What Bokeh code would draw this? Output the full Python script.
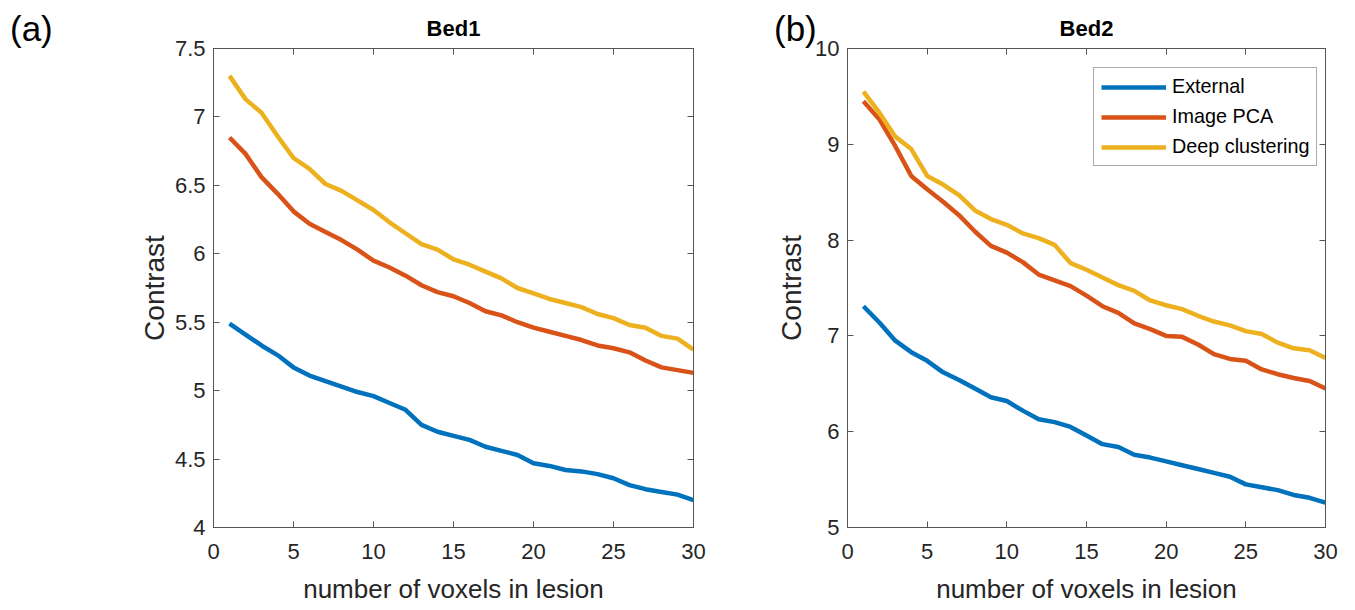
from bokeh.plotting import figure
from bokeh.models import (Range1d, LinearAxis, FixedTicker, Legend, LegendItem,
                          CustomJSTickFormatter, GridBox, Div)
from bokeh.embed import file_html
from bokeh.resources import INLINE

voxels = list(range(1, 31))

bed1_external = [5.49, 5.41, 5.33, 5.26, 5.17, 5.11, 5.07, 5.03, 4.99, 4.96,
                 4.91, 4.86, 4.75, 4.70, 4.67, 4.64, 4.59, 4.56, 4.53, 4.47,
                 4.45, 4.42, 4.41, 4.39, 4.36, 4.31, 4.28, 4.26, 4.24, 4.20]
bed1_pca = [6.85, 6.73, 6.56, 6.44, 6.31, 6.22, 6.16, 6.10, 6.03, 5.95,
            5.90, 5.84, 5.77, 5.72, 5.69, 5.64, 5.58, 5.55, 5.50, 5.46,
            5.43, 5.40, 5.37, 5.33, 5.31, 5.28, 5.22, 5.17, 5.15, 5.13]
bed1_deep = [7.30, 7.13, 7.03, 6.86, 6.70, 6.62, 6.51, 6.46, 6.39, 6.32,
             6.23, 6.15, 6.07, 6.03, 5.96, 5.92, 5.87, 5.82, 5.75, 5.71,
             5.67, 5.64, 5.61, 5.56, 5.53, 5.48, 5.46, 5.40, 5.38, 5.30]

bed2_external = [7.31, 7.14, 6.95, 6.83, 6.74, 6.62, 6.54, 6.45, 6.36, 6.32,
                 6.22, 6.13, 6.10, 6.05, 5.96, 5.87, 5.84, 5.76, 5.73, 5.69,
                 5.65, 5.61, 5.57, 5.53, 5.45, 5.42, 5.39, 5.34, 5.31, 5.26]
bed2_pca = [9.45, 9.26, 8.98, 8.67, 8.53, 8.40, 8.26, 8.09, 7.94, 7.87,
            7.77, 7.64, 7.58, 7.52, 7.42, 7.31, 7.24, 7.13, 7.07, 7.00,
            6.99, 6.91, 6.81, 6.76, 6.74, 6.65, 6.60, 6.56, 6.53, 6.45]
bed2_deep = [9.55, 9.33, 9.08, 8.95, 8.67, 8.58, 8.47, 8.31, 8.22, 8.16,
             8.07, 8.02, 7.95, 7.76, 7.69, 7.61, 7.53, 7.47, 7.37, 7.32,
             7.28, 7.21, 7.15, 7.11, 7.05, 7.02, 6.93, 6.87, 6.85, 6.77]

series_names = ["External", "Image PCA", "Deep clustering"]
colors = ["#0072BD", "#D95319", "#EDB120"]
x_ticks = [0, 5, 10, 15, 20, 25, 30]
bed1_yticks = [4, 4.5, 5, 5.5, 6, 6.5, 7, 7.5]
bed2_yticks = [5, 6, 7, 8, 9, 10]

FONT = "Liberation Sans"
AXC = "#555555"
TXC = "#262626"


def style_axis(ax, ticks, show_labels=True):
    ax.ticker = FixedTicker(ticks=ticks)
    ax.axis_line_color = AXC
    ax.major_tick_line_color = AXC
    ax.major_tick_in = 6
    ax.major_tick_out = 0
    ax.minor_tick_line_color = None
    ax.major_label_text_font = FONT
    ax.major_label_text_font_size = "22px"
    ax.major_label_text_color = TXC
    ax.axis_label_text_font = FONT
    ax.axis_label_text_font_style = "normal"
    ax.axis_label_text_color = TXC
    if not show_labels:
        ax.formatter = CustomJSTickFormatter(code="return ''")
        ax.major_label_standoff = 0


def make(title, ys, yticks, ymin, ymax, width, bl, br, ylabel_standoff, legend):
    p = figure(width=width, height=606, x_range=Range1d(0, 30), y_range=Range1d(ymin, ymax),
               output_backend="svg", toolbar_location=None,
               min_border_left=bl, min_border_right=br, min_border_top=48, min_border_bottom=79)
    p.xgrid.visible = False
    p.ygrid.visible = False
    p.outline_line_color = AXC
    p.background_fill_color = "white"
    p.border_fill_color = "white"
    p.title.text = title
    p.title.align = "center"
    p.title.text_font = FONT
    p.title.text_font_size = "22px"
    p.title.text_font_style = "bold"
    p.title.text_color = "#000000"
    p.title.standoff = 16
    p.xaxis.axis_label = "number of voxels in lesion"
    p.yaxis.axis_label = "Contrast"
    style_axis(p.xaxis[0], x_ticks)
    style_axis(p.yaxis[0], yticks)
    p.xaxis[0].axis_label_text_font_size = "26px"
    p.yaxis[0].axis_label_text_font_size = "28px"
    p.xaxis[0].major_label_standoff = 16
    p.xaxis[0].axis_label_standoff = 12
    p.yaxis[0].major_label_standoff = 8
    p.yaxis[0].axis_label_standoff = ylabel_standoff
    ra = LinearAxis()
    style_axis(ra, yticks, show_labels=False)
    p.add_layout(ra, "right")
    ta = LinearAxis()
    style_axis(ta, x_ticks, show_labels=False)
    p.add_layout(ta, "above")
    items = []
    for name, y, c in zip(series_names, ys, colors):
        r = p.line(voxels, y, line_color=c, line_width=4.5)
        items.append(LegendItem(label=name, renderers=[r]))
    if legend:
        lg = Legend(items=items, location=(246, 361))
        lg.label_text_font = FONT
        lg.label_text_font_size = "19.8px"
        lg.label_text_color = "#000000"
        lg.glyph_width = 65
        lg.glyph_height = 22
        lg.label_height = 22
        lg.label_standoff = 6
        lg.spacing = 7
        lg.padding = 7
        lg.margin = 0
        lg.border_line_color = AXC
        lg.border_line_width = 1
        lg.background_fill_alpha = 1
        p.add_layout(lg, "center")
    return p


def tag(text, left):
    return Div(text=text, width=60, height=40, margin=(11, 0, 0, left),
               styles={"font-family": FONT, "font-size": "35px", "line-height": "1",
                       "color": "#000000", "background": "transparent"})


p1 = make("Bed1", [bed1_external, bed1_pca, bed1_deep], bed1_yticks, 4, 7.5,
          770, 213, 77, 2, False)
p2 = make("Bed2", [bed2_external, bed2_pca, bed2_deep], bed2_yticks, 5, 10,
          577, 77, 22, 5, True)

layout = GridBox(children=[(p1, 0, 0), (tag("(a)", 10), 0, 0),
                           (p2, 0, 1), (tag("(b)", 4), 0, 1)], spacing=0)
open("out.html", "w").write(file_html(layout, INLINE))
